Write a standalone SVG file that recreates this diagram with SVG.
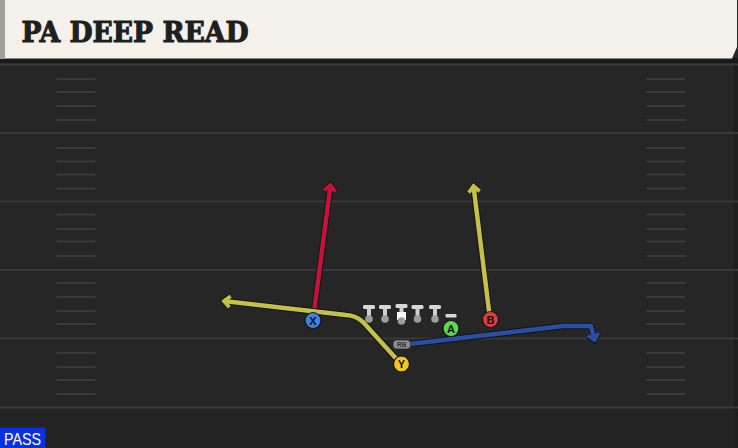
<svg xmlns="http://www.w3.org/2000/svg" width="738" height="448" viewBox="0 0 738 448">
  <defs>
    <style>
      .yard { stroke: #393939; stroke-width: 2; }
      .hash { stroke: #3a3a3a; stroke-width: 2; stroke-linecap: round; }
      .outline { fill: none; stroke: #141414; stroke-width: 6.5; stroke-linejoin: round; }
      .route { fill: none; stroke-width: 4.5; stroke-linejoin: round; }
      .red { stroke: #c3133b; }
      .yel { stroke: #c6c048; }
      .blu { stroke: #2a4ea6; }
      .ply { stroke: #151515; stroke-width: 1.2; }
      .lbl { font-family: "Liberation Sans", Arial, sans-serif; font-weight: bold; font-size: 11px; fill: #111; text-anchor: middle; }
      .bar { fill: #d9d9d9; }
      .stem { fill: #cfcfcf; }
      .foot { fill: #9c9c9c; }
    </style>
    <marker id="ah-red" markerUnits="userSpaceOnUse" viewBox="-10 -10 20 20" markerWidth="20" markerHeight="20" refX="0" refY="0" orient="auto" overflow="visible">
      <path d="M-6,-5.5 L0,0 L-6,5.5" fill="none" stroke="#c3133b" stroke-width="3.8"/>
    </marker>
    <marker id="ah-yel" markerUnits="userSpaceOnUse" viewBox="-10 -10 20 20" markerWidth="20" markerHeight="20" refX="0" refY="0" orient="auto" overflow="visible">
      <path d="M-6,-5.5 L0,0 L-6,5.5" fill="none" stroke="#c6c048" stroke-width="3.8"/>
    </marker>
    <marker id="ah-blu" markerUnits="userSpaceOnUse" viewBox="-10 -10 20 20" markerWidth="20" markerHeight="20" refX="0" refY="0" orient="auto" overflow="visible">
      <path d="M-6,-5.5 L0,0 L-6,5.5" fill="none" stroke="#2a4ea6" stroke-width="3.8"/>
    </marker>
    <marker id="ah-dark" markerUnits="userSpaceOnUse" viewBox="-10 -10 20 20" markerWidth="20" markerHeight="20" refX="0" refY="0" orient="auto" overflow="visible">
      <path d="M-6,-5.5 L0,0 L-6,5.5" fill="none" stroke="#141414" stroke-width="5.8"/>
    </marker>
  </defs>

  <!-- field -->
  <rect x="0" y="0" width="738" height="448" fill="#262626"/>
  <rect x="0" y="408" width="738" height="40" fill="#232323"/>
  <rect x="734" y="58" width="4" height="390" fill="#1e1e1e"/>

  <g id="yardlines">
    <line class="yard" x1="0" y1="64.5" x2="738" y2="64.5"/>
    <line class="yard" x1="0" y1="133" x2="738" y2="133"/>
    <line class="yard" x1="0" y1="201.5" x2="738" y2="201.5"/>
    <line class="yard" x1="0" y1="270" x2="738" y2="270"/>
    <line class="yard" x1="0" y1="338.5" x2="738" y2="338.5"/>
    <line class="yard" x1="0" y1="407.5" x2="738" y2="407.5"/>
  </g>

  <g id="hashes">
    <g id="hash-left">
      <line class="hash" x1="57" y1="79" x2="95" y2="79"/>
      <line class="hash" x1="57" y1="92" x2="95" y2="92"/>
      <line class="hash" x1="57" y1="106" x2="95" y2="106"/>
      <line class="hash" x1="57" y1="120" x2="95" y2="120"/>
      <line class="hash" x1="57" y1="148" x2="95" y2="148"/>
      <line class="hash" x1="57" y1="161.5" x2="95" y2="161.5"/>
      <line class="hash" x1="57" y1="174.5" x2="95" y2="174.5"/>
      <line class="hash" x1="57" y1="188.5" x2="95" y2="188.5"/>
      <line class="hash" x1="57" y1="214.5" x2="95" y2="214.5"/>
      <line class="hash" x1="57" y1="229" x2="95" y2="229"/>
      <line class="hash" x1="57" y1="241.5" x2="95" y2="241.5"/>
      <line class="hash" x1="57" y1="256" x2="95" y2="256"/>
      <line class="hash" x1="57" y1="283" x2="95" y2="283"/>
      <line class="hash" x1="57" y1="297" x2="95" y2="297"/>
      <line class="hash" x1="57" y1="311" x2="95" y2="311"/>
      <line class="hash" x1="57" y1="324" x2="95" y2="324"/>
      <line class="hash" x1="57" y1="353" x2="95" y2="353"/>
      <line class="hash" x1="57" y1="367" x2="95" y2="367"/>
      <line class="hash" x1="57" y1="380" x2="95" y2="380"/>
      <line class="hash" x1="57" y1="394" x2="95" y2="394"/>
    </g>
    <g id="hash-right">
      <line class="hash" x1="647" y1="79" x2="685" y2="79"/>
      <line class="hash" x1="647" y1="92" x2="685" y2="92"/>
      <line class="hash" x1="647" y1="106" x2="685" y2="106"/>
      <line class="hash" x1="647" y1="120" x2="685" y2="120"/>
      <line class="hash" x1="647" y1="148" x2="685" y2="148"/>
      <line class="hash" x1="647" y1="161.5" x2="685" y2="161.5"/>
      <line class="hash" x1="647" y1="174.5" x2="685" y2="174.5"/>
      <line class="hash" x1="647" y1="188.5" x2="685" y2="188.5"/>
      <line class="hash" x1="647" y1="214.5" x2="685" y2="214.5"/>
      <line class="hash" x1="647" y1="229" x2="685" y2="229"/>
      <line class="hash" x1="647" y1="241.5" x2="685" y2="241.5"/>
      <line class="hash" x1="647" y1="256" x2="685" y2="256"/>
      <line class="hash" x1="647" y1="283" x2="685" y2="283"/>
      <line class="hash" x1="647" y1="297" x2="685" y2="297"/>
      <line class="hash" x1="647" y1="311" x2="685" y2="311"/>
      <line class="hash" x1="647" y1="324" x2="685" y2="324"/>
      <line class="hash" x1="647" y1="353" x2="685" y2="353"/>
      <line class="hash" x1="647" y1="367" x2="685" y2="367"/>
      <line class="hash" x1="647" y1="380" x2="685" y2="380"/>
      <line class="hash" x1="647" y1="394" x2="685" y2="394"/>
    </g>
  </g>

  <!-- header -->
  <g id="header">
    <rect x="0" y="58" width="738" height="5" fill="#1a1a1a"/>
    <path d="M0,0 H737 V47 L732,58.5 H0 Z" fill="#f4f1ea"/>
    <rect x="0" y="0" width="5" height="59" fill="#9ea19d"/>
    <text x="21.5" y="42.3" font-family="'DejaVu Serif', 'Liberation Serif', serif" font-weight="bold" font-size="28" fill="#1f1f1f" stroke="#1f1f1f" stroke-width="1.1" stroke-linejoin="miter" textLength="227" lengthAdjust="spacingAndGlyphs">PA DEEP READ</text>
  </g>

  <!-- connectors / routes -->
  <g id="routes">
    <path class="outline" d="M313,320 L330.5,185" marker-end="url(#ah-dark)"/>
    <path class="route red" d="M313,320 L330.5,185" marker-end="url(#ah-red)"/>

    <path class="outline" d="M401,364 L363,322 Q356,315.5 346,315 L224,301" marker-end="url(#ah-dark)"/>
    <path class="route yel" d="M401,364 L363,322 Q356,315.5 346,315 L224,301" marker-end="url(#ah-yel)"/>

    <path class="outline" d="M490,319 L473.5,186" marker-end="url(#ah-dark)"/>
    <path class="route yel" d="M490,319 L473.5,186" marker-end="url(#ah-yel)"/>

    <path class="outline" d="M405,344.5 L563,326 L591,326 L594.5,340" marker-end="url(#ah-dark)"/>
    <path class="route blu" d="M405,344.5 L563,326 L591,326 L594.5,340" marker-end="url(#ah-blu)"/>
  </g>

  <!-- offensive line -->
  <g id="LT">
    <rect class="bar" x="363" y="305" width="12" height="4" rx="1.5"/>
    <rect class="stem" x="367" y="308" width="4" height="10"/>
    <circle class="foot" cx="369" cy="319" r="3.8"/>
  </g>
  <g id="LG">
    <rect class="bar" x="379" y="305" width="12" height="4" rx="1.5"/>
    <rect class="stem" x="383" y="308" width="4" height="10"/>
    <circle class="foot" cx="385" cy="319" r="3.8"/>
  </g>
  <g id="C">
    <rect class="bar" x="395.5" y="304" width="12" height="4" rx="1.5"/>
    <rect class="stem" x="399.5" y="307" width="4" height="6"/>
    <rect x="397" y="312" width="9" height="8" fill="#f7f7f7"/>
    <circle class="foot" cx="401.5" cy="321" r="3.8"/>
  </g>
  <g id="RG">
    <rect class="bar" x="411.5" y="305" width="12" height="4" rx="1.5"/>
    <rect class="stem" x="415.5" y="308" width="4" height="10"/>
    <circle class="foot" cx="417.5" cy="319" r="3.8"/>
  </g>
  <g id="RT">
    <rect class="bar" x="429" y="305" width="12" height="4" rx="1.5"/>
    <rect class="stem" x="433" y="308" width="4" height="10"/>
    <circle class="foot" cx="435" cy="319" r="3.8"/>
  </g>

  <!-- skill players -->
  <g id="A">
    <rect x="445.5" y="314" width="11" height="3.5" rx="1" fill="#d9d9d9"/>
    <circle class="ply" cx="451" cy="328.5" r="8" fill="#5ed84a"/>
    <text class="lbl" x="451" y="332.5">A</text>
  </g>
  <g id="X">
    <circle class="ply" cx="313" cy="320.5" r="8" fill="#3f7fe0"/>
    <text class="lbl" x="313" y="324.5">X</text>
  </g>
  <g id="B">
    <circle class="ply" cx="490.5" cy="319.5" r="8" fill="#e23a3e"/>
    <text class="lbl" x="490.5" y="323.5">B</text>
  </g>
  <g id="Y">
    <circle class="ply" cx="401.5" cy="364" r="8" fill="#f2c420"/>
    <text class="lbl" x="401.5" y="368">Y</text>
  </g>
  <g id="RB">
    <rect x="393" y="340" width="17.5" height="9" rx="3.5" fill="#8e8e8e" stroke="#2a2a2a" stroke-width="0.8"/>
    <text x="401.7" y="347" font-family="'Liberation Sans', Arial, sans-serif" font-weight="bold" font-size="6.5" fill="#333" text-anchor="middle">RB</text>
  </g>

  <!-- pass badge -->
  <g id="pass">
    <rect x="0" y="427.5" width="45.5" height="20.5" fill="#0b2fe3"/>
    <text x="4" y="445" font-family="'Liberation Sans', Arial, sans-serif" font-size="17" fill="#ffffff" textLength="37" lengthAdjust="spacingAndGlyphs">PASS</text>
  </g>
</svg>
